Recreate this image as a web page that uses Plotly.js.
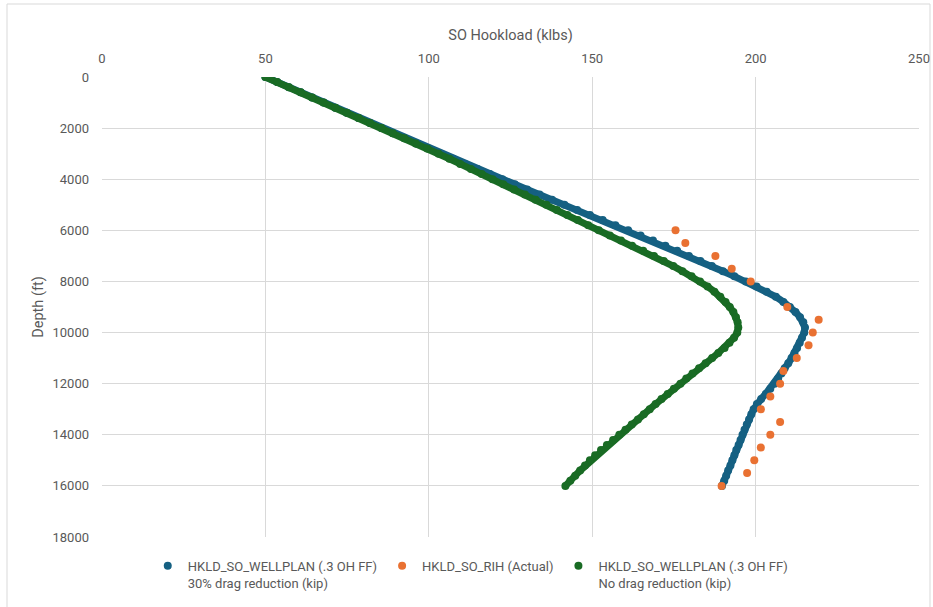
<!DOCTYPE html>
<html>
<head>
<meta charset="utf-8">
<script src="https://cdn.plot.ly/plotly-3.0.1.min.js"></script>
<style>html,body{margin:0;padding:0;background:#fff;}#chart{width:933px;height:607px;}</style>
</head>
<body>
<div id="chart"></div>
<script>
// Depth (ft) for the modelled curves
const depthModel = [0,200,400,600,800,1000,1200,1400,1600,1800,2000,2200,2400,2600,2800,3000,3200,3400,3600,3800,4000,4200,4400,4600,4800,5000,5200,5400,5600,5800,6000,6200,6400,6600,6800,7000,7200,7400,7600,7800,8000,8200,8400,8600,8800,9000,9200,9400,9600,9800,10000,10200,10400,10600,10800,11000,11200,11400,11600,11800,12000,12200,12400,12600,12800,13000,13200,13400,13600,13800,14000,14200,14400,14600,14800,15000,15200,15400,15600,15800,16000];

// HKLD_SO_WELLPLAN (.3 OH FF) 30% drag reduction (kip)
const hkld30 = [50.0,53.6,57.2,60.8,64.3,67.8,71.4,74.9,78.5,82.0,85.5,89.0,92.6,96.2,99.9,103.8,107.4,111.1,114.9,118.7,122.5,126.3,130.1,133.9,137.7,141.5,145.4,149.3,153.2,157.1,161.0,164.8,168.6,172.4,176.0,179.6,183.1,186.6,190.0,193.5,197.0,200.3,203.4,206.2,208.5,210.5,212.2,213.6,214.6,215.1,214.9,214.2,213.5,212.7,211.9,211.0,210.0,208.9,207.9,206.9,205.8,204.5,203.1,201.7,200.4,199.4,198.7,198.0,197.3,196.6,196.0,195.4,194.8,194.1,193.5,192.9,192.3,191.6,191.0,190.4,189.7];

// HKLD_SO_WELLPLAN (.3 OH FF) No drag reduction (kip)
const hkldNo = [50.0,53.6,57.2,60.8,64.3,67.8,71.4,74.9,78.5,82.0,85.5,89.0,92.5,96.0,99.5,103.0,106.3,109.6,112.9,116.2,119.5,122.8,126.1,129.4,132.7,136.0,139.2,142.4,145.6,148.8,152.0,155.4,158.8,162.2,165.6,168.9,171.9,174.8,177.6,180.4,183.0,185.3,187.4,189.2,190.8,192.1,193.2,194.0,194.5,194.7,194.4,193.4,192.0,190.5,188.6,186.7,184.7,182.7,180.7,178.8,177.0,175.0,173.1,171.2,169.4,167.6,165.8,164.0,162.1,160.2,158.3,156.4,154.5,152.7,150.9,149.3,147.8,146.3,144.8,143.3,141.8];

// HKLD_SO_RIH (Actual)
const depthActual = [6000,6500,7000,7500,8000,9000,9500,10000,10500,11000,11500,12000,12500,13000,13500,14000,14500,15000,15500,16000];
const hkldActual = [175.5,178.5,187.7,192.7,198.5,209.7,219.3,217.5,216.2,212.6,208.5,207.5,204.5,201.6,207.5,204.5,201.6,199.6,197.4,189.6];

const seriesNames = [
  'HKLD_SO_WELLPLAN (.3 OH FF)<br>30% drag reduction (kip)',
  'HKLD_SO_RIH (Actual)',
  'HKLD_SO_WELLPLAN (.3 OH FF)<br>No drag reduction (kip)'
];
const seriesColors = ['#156082', '#E97132', '#196B24'];

const xTicks = [0,50,100,150,200,250];
const yTicks = [0,2000,4000,6000,8000,10000,12000,14000,16000,18000];

const traces = [
  // band that joins the dense markers (no legend entry)
  {x: hkld30, y: depthModel, type: 'scatter', mode: 'lines', showlegend: false,
   line: {color: seriesColors[0], width: 7}, hoverinfo: 'skip'},
  {x: hkld30, y: depthModel, type: 'scatter', mode: 'markers', name: seriesNames[0],
   marker: {color: seriesColors[0], size: 8}},
  {x: hkldActual, y: depthActual, type: 'scatter', mode: 'markers', name: seriesNames[1],
   marker: {color: seriesColors[1], size: 8}},
  {x: hkldNo, y: depthModel, type: 'scatter', mode: 'lines', showlegend: false,
   line: {color: seriesColors[2], width: 7}, hoverinfo: 'skip'},
  {x: hkldNo, y: depthModel, type: 'scatter', mode: 'markers', name: seriesNames[2],
   marker: {color: seriesColors[2], size: 8}}
];

const fontFam = 'Roboto, "Open Sans", sans-serif';
const layout = {
  width: 933, height: 607,
  margin: {l: 102, r: 14, t: 77, b: 70, autoexpand: false},
  paper_bgcolor: '#ffffff', plot_bgcolor: '#ffffff',
  font: {family: fontFam, size: 12, color: '#595959'},
  showlegend: true,
  xaxis: {
    side: 'top', range: [0, 250], tickvals: xTicks, ticktext: xTicks.map(String),
    showgrid: true, gridcolor: '#d9d9d9', gridwidth: 1, zeroline: false, showline: false,
    ticks: '', ticklabelstandoff: 10,
    tickfont: {size: 13, color: '#595959', family: fontFam},
    title: {text: 'SO Hookload (klbs)', font: {size: 14.5, color: '#595959', family: fontFam}, standoff: 7}
  },
  yaxis: {
    range: [18000, 0], tickvals: yTicks, ticktext: yTicks.map(String),
    showgrid: true, gridcolor: '#d9d9d9', gridwidth: 1, zeroline: false, showline: false,
    ticks: '', ticklabelstandoff: 12,
    tickfont: {size: 13, color: '#595959', family: fontFam},
    title: {text: 'Depth (ft)', font: {size: 14.5, color: '#595959', family: fontFam}, standoff: 5}
  },
  legend: {
    orientation: 'h', x: 0.056, xanchor: 'left', y: -0.03, yanchor: 'top',
    valign: 'top', font: {size: 13, color: '#595959', family: fontFam},
    bgcolor: 'rgba(0,0,0,0)', itemclick: false
  },
  shapes: [{
    type: 'rect', xref: 'paper', yref: 'paper', layer: 'below',
    x0: (7 - 102) / 817, x1: (930 - 102) / 817,
    y0: (537 - 612) / 460, y1: (537 - 4) / 460,
    line: {color: '#d9d9d9', width: 1}, fillcolor: 'rgba(0,0,0,0)'
  }]
};

Plotly.newPlot('chart', traces, layout, {displayModeBar: false, staticPlot: true});
</script>
</body>
</html>
